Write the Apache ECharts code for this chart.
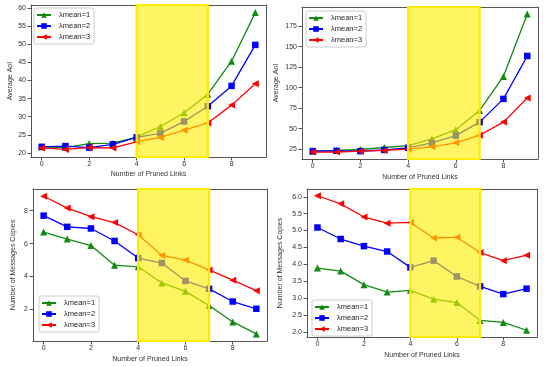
<!DOCTYPE html>
<html><head><meta charset="utf-8">
<script src="https://cdn.jsdelivr.net/npm/echarts@6/dist/echarts.min.js"></script>
<style>html,body{margin:0;padding:0;background:#fff}#c{width:550px;height:367px}</style>
</head><body><div id="c"></div>
<script>
const xVals = [0,1,2,3,4,5,6,7,8,9];
const seriesNames = ['λmean=1','λmean=2','λmean=3'];
// Panel 1: Average AoI (top-left)
const aoiA_l1 = [21.7,21.5,22.6,22.7,24.4,27.3,31.1,36.2,45.3,58.7];
const aoiA_l2 = [21.7,21.9,21.5,22.4,24.3,25.4,28.7,32.9,38.5,49.8];
const aoiA_l3 = [21.4,21.0,21.5,21.4,23.1,24.3,26.3,28.3,33.2,39.1];
// Panel 2: Average AoI (top-right)
const aoiB_l1 = [22.6,23.4,24.6,27.0,29.4,37.5,48.8,72.2,113.7,189.9];
const aoiB_l2 = [22.6,23.0,22.6,24.0,26.6,32.7,41.5,58.0,86.3,138.7];
const aoiB_l3 = [21.4,21.4,22.6,23.4,25.0,27.8,32.7,42.0,58.0,87.5];
// Panel 3: Number of Messages Copies (bottom-left)
const copA_l1 = [6.70,6.28,5.88,4.69,4.59,3.61,3.10,2.24,1.24,0.51];
const copA_l2 = [7.70,7.02,6.92,6.16,5.12,4.82,3.73,3.25,2.48,2.04];
const copA_l3 = [8.88,8.16,7.64,7.28,6.54,5.28,5.00,4.40,3.78,3.14];
// Panel 4: Number of Messages Copies (bottom-right)
const copB_l1 = [3.89,3.80,3.40,3.18,3.23,2.97,2.87,2.34,2.28,2.05];
const copB_l2 = [5.09,4.75,4.54,4.38,3.91,4.11,3.64,3.35,3.12,3.28];
const copB_l3 = [6.03,5.79,5.40,5.22,5.24,4.78,4.80,4.35,4.11,4.27];
// ticks
const xTicks = [0,2,4,6,8];
const yTicksA = [20,25,30,35,40,45,50,55,60];
const yTicksB = [25,50,75,100,125,150,175];
const yTicksC = [2,4,6,8];
const yTicksD = [2.0,2.5,3.0,3.5,4.0,4.5,5.0,5.5,6.0];
const highlightRange = [4,7];

const FONT = 'Liberation Sans';
const FS = 7;
const colors = ['#118a11','#0000ff','#ff0000'];
const symbols = ['triangle','rect','triangle'];
const rotations = [0,0,90];

const grids = [
  {left:31, top:5, width:235, height:152},
  {left:302, top:7, width:236, height:152},
  {left:33, top:189, width:234, height:152},
  {left:307, top:189, width:230, height:148}
];
const yRanges = [[18.9,60.8],[13,198.4],[0.08,9.32],[1.85,6.23]];
const yTickSets = [yTicksA,yTicksB,yTicksC,yTicksD];
const yNames = ['Average AoI','Average AoI','Number of Messages Copies','Number of Messages Copies'];
const yGaps = [17,22,16,23];
const xGaps = [14,15,15,15];
const dataSets = [[aoiA_l1,aoiA_l2,aoiA_l3],[aoiB_l1,aoiB_l2,aoiB_l3],[copA_l1,copA_l2,copA_l3],[copB_l1,copB_l2,copB_l3]];

const axisLineStyle = {color:'#555', width:1};
const xAxes = grids.map((g,i)=>({
  gridIndex:i, type:'value', min:-0.45, max:9.45,
  name:'Number of Pruned Links', nameLocation:'middle', nameGap:xGaps[i],
  nameTextStyle:{fontFamily:FONT, fontSize:FS, color:'#333'},
  axisLine:{show:true, onZero:false, lineStyle:axisLineStyle},
  axisTick:{show:true, inside:false, length:3.5, customValues:xTicks, lineStyle:{color:'#555'}},
  axisLabel:{customValues:xTicks, fontFamily:FONT, fontSize:FS, color:'#333', margin:4},
  splitLine:{show:false}
}));
const xTop = grids.map((g,i)=>({
  gridIndex:i, type:'value', position:'top', min:-0.45, max:9.45,
  axisLine:{show:true, onZero:false, lineStyle:axisLineStyle}, axisTick:{show:false}, axisLabel:{show:false}, splitLine:{show:false}
}));
const yAxes = grids.map((g,i)=>({
  gridIndex:i, type:'value', min:yRanges[i][0], max:yRanges[i][1],
  name:yNames[i], nameLocation:'middle', nameGap:yGaps[i],
  nameTextStyle:{fontFamily:FONT, fontSize:FS, color:'#333'},
  axisLine:{show:true, onZero:false, lineStyle:axisLineStyle},
  axisTick:{show:true, inside:false, length:3.5, customValues:yTickSets[i], lineStyle:{color:'#555'}},
  axisLabel:{customValues:yTickSets[i], fontFamily:FONT, fontSize:FS, color:'#333', margin:5,
    formatter: i===3 ? (v)=>Number(v).toFixed(1) : (v)=>String(v)},
  splitLine:{show:false}
}));
const yRight = grids.map((g,i)=>({
  gridIndex:i, type:'value', position:'right', min:yRanges[i][0], max:yRanges[i][1],
  axisLine:{show:true, onZero:false, lineStyle:axisLineStyle}, axisTick:{show:false}, axisLabel:{show:false}, splitLine:{show:false}
}));

const series = [];
dataSets.forEach((set,gi)=>{
  set.forEach((vals,si)=>{
    const s = {
      name:seriesNames[si], type:'line', xAxisIndex:gi, yAxisIndex:gi,
      data: xVals.map((x,k)=>[x, vals[k]]),
      symbol:symbols[si], symbolSize: si===1 ? 6.5 : 7, symbolRotate:rotations[si],
      showSymbol:true,
      lineStyle:{color:colors[si], width:1.3},
      itemStyle:{color:colors[si]},
      z:2, animation:false
    };
    if(si===2){
      s.markArea = {
        silent:true, z:5,
        itemStyle:{color:'rgba(255,238,0,0.62)', borderColor:'#ffea00', borderWidth:2.2},
        data:[[{xAxis:highlightRange[0]},{xAxis:highlightRange[1]}]]
      };
    }
    series.push(s);
  });
});

const legendPos = [
  {left:34, top:8},
  {left:306, top:11},
  {left:39, top:296},
  {left:312, top:300}
];
const legends = legendPos.map(p=>({
  left:p.left, top:p.top, orient:'vertical', data:seriesNames,
  itemWidth:14, itemHeight:7, itemGap:3, padding:[3,4,3,2],
  backgroundColor:'rgba(255,255,255,0.9)', borderColor:'#ccc', borderWidth:1, borderRadius:2,
  textStyle:{fontFamily:FONT, fontSize:7.5, color:'#222', padding:[0,0,0,3]},
  selectedMode:false
}));

const chart = echarts.init(document.getElementById('c'), null, {renderer:'canvas'});
chart.setOption({
  animation:false,
  grid:grids,
  xAxis:xAxes.concat(xTop),
  yAxis:yAxes.concat(yRight),
  legend:legends,
  series:series
});
</script></body></html>
